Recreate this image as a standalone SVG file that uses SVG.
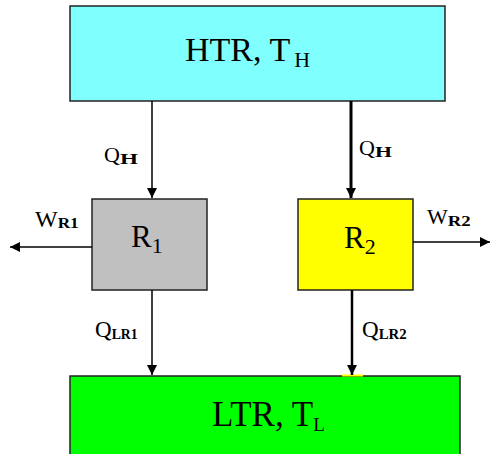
<svg xmlns="http://www.w3.org/2000/svg" width="490" height="454" viewBox="0 0 490 454">
<defs>
<style>
.box{stroke:#222;stroke-width:1.5}
.t{font-family:"Liberation Serif","Times New Roman",serif;fill:#000}
.sb{font-family:"Liberation Serif","Times New Roman",serif;font-weight:bold;fill:#000}
.ln{stroke:#000;fill:none}
</style>
<marker id="ah" viewBox="0 0 10 10" refX="10" refY="5" markerWidth="11" markerHeight="10" markerUnits="userSpaceOnUse" orient="auto">
<path d="M0,0 L10,5 L0,10 Z" fill="#000"/>
</marker>
</defs>
<rect width="490" height="454" fill="#fff"/>
<g id="htr">
<rect class="box" x="70" y="6" width="375" height="95" fill="#80FFFF"/>
<text class="t" x="185" y="61" font-size="34">HTR, T<tspan font-size="22" dx="4" dy="6">H</tspan></text>
</g>
<g id="r1">
<rect class="box" x="92" y="199" width="115" height="91" fill="#C0C0C0"/>
<text class="t" x="131" y="247" font-size="31">R<tspan font-size="22" dy="6">1</tspan></text>
</g>
<g id="r2">
<rect class="box" x="298" y="199" width="115" height="91" fill="#FFFF00"/>
<text class="t" x="344" y="248" font-size="31">R<tspan font-size="22" dy="6">2</tspan></text>
</g>
<g id="ltr">
<rect class="box" x="70" y="376" width="390" height="90" fill="#00FF00"/>
<rect x="342" y="374.5" width="21" height="2" fill="#FFFF00"/>
<text class="t" x="212" y="426" font-size="35">LTR, T<tspan font-size="19" dy="5">L</tspan></text>
</g>
<g id="connectors">
<line class="ln" x1="152" y1="101" x2="152" y2="198" stroke-width="1.5" marker-end="url(#ah)"/>
<line class="ln" x1="351" y1="101" x2="351" y2="198" stroke-width="3" marker-end="url(#ah)"/>
<line class="ln" x1="152" y1="290" x2="152" y2="375" stroke-width="1.5" marker-end="url(#ah)"/>
<line class="ln" x1="352" y1="290" x2="352" y2="375" stroke-width="2.5" marker-end="url(#ah)"/>
<line class="ln" x1="92" y1="247" x2="10" y2="247" stroke-width="1.5" marker-end="url(#ah)"/>
<line class="ln" x1="413" y1="242" x2="490" y2="242" stroke-width="1.5" marker-end="url(#ah)"/>
</g>
<g id="labels">
<text class="t" x="104" y="162" font-size="22">Q<tspan class="sb" font-size="14" dy="2" textLength="18" lengthAdjust="spacingAndGlyphs">H</tspan></text>
<text class="t" x="359" y="155" font-size="22">Q<tspan class="sb" font-size="14" dy="2" textLength="17" lengthAdjust="spacingAndGlyphs">H</tspan></text>
<text class="t" x="35" y="227" font-size="24">W<tspan class="sb" font-size="14" dy="1" textLength="21" lengthAdjust="spacingAndGlyphs">R1</tspan></text>
<text class="t" x="427" y="224" font-size="22">W<tspan class="sb" font-size="14" dy="2" textLength="23" lengthAdjust="spacingAndGlyphs">R2</tspan></text>
<text class="t" x="95" y="337" font-size="23">Q<tspan class="sb" font-size="14" dy="2" textLength="26" lengthAdjust="spacingAndGlyphs">LR1</tspan></text>
<text class="t" x="362" y="337" font-size="23">Q<tspan class="sb" font-size="14" dy="2" textLength="28" lengthAdjust="spacingAndGlyphs">LR2</tspan></text>
</g>
</svg>
